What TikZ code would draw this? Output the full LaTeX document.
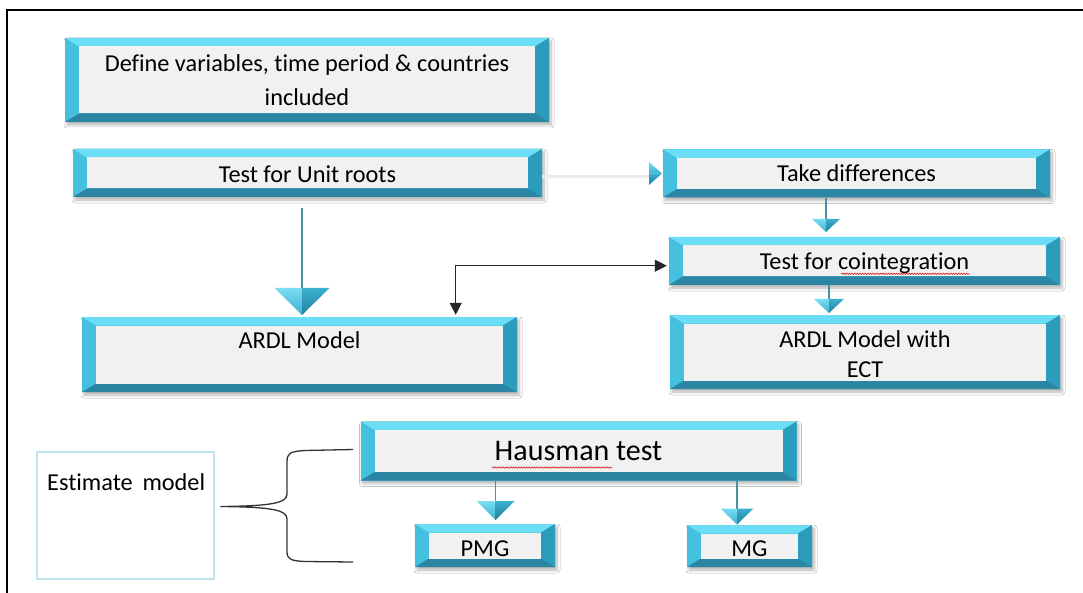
\documentclass[tikz,border=0pt]{standalone}
\usepackage{fontspec}
\setmainfont{Carlito}[Ligatures=NoCommon]
\usetikzlibrary{shadows.blur,arrows.meta,decorations.pathmorphing,calc}
\definecolor{bevtop}{HTML}{6BDDF5}
\definecolor{bevleft}{HTML}{45C1DF}
\definecolor{bevright}{HTML}{2C9CBD}
\definecolor{bevbot}{HTML}{2A86A2}
\definecolor{bevin}{HTML}{F1F1F1}
\definecolor{connc}{HTML}{4E8DA6}
\definecolor{trilt}{HTML}{7ADDF4}
\definecolor{trimd}{HTML}{3BB0CF}
\definecolor{tridk}{HTML}{25809D}
\definecolor{embord}{HTML}{BFE2EC}
\definecolor{faintc}{HTML}{EBEBEB}
\newcommand\bevx{14pt}
\newcommand\bevy{8.5pt}
\newcommand\fsmain{\fontsize{24.3}{29.5}\selectfont}
\newcommand\fsdef{\fontsize{24.3}{34}\selectfont}
\newcommand\fshaus{\fontsize{30}{36}\selectfont}
\tikzset{
  bevelbox/.style={rectangle, inner sep=0pt, align=center, fill=bevleft, font=\fsmain,
    blur shadow={shadow xshift=2pt, shadow yshift=-3pt, shadow blur steps=6, shadow opacity=30, shadow blur radius=3pt},
    path picture={
      \fill[bevtop] (path picture bounding box.north west) -- (path picture bounding box.north east)
        -- ([xshift=-\bevx,yshift=-\bevy]path picture bounding box.north east)
        -- ([xshift=\bevx,yshift=-\bevy]path picture bounding box.north west) -- cycle;
      \fill[bevright] (path picture bounding box.north east) -- (path picture bounding box.south east)
        -- ([xshift=-\bevx,yshift=\bevy]path picture bounding box.south east)
        -- ([xshift=-\bevx,yshift=-\bevy]path picture bounding box.north east) -- cycle;
      \fill[bevbot] (path picture bounding box.south west) -- (path picture bounding box.south east)
        -- ([xshift=-\bevx,yshift=\bevy]path picture bounding box.south east)
        -- ([xshift=\bevx,yshift=\bevy]path picture bounding box.south west) -- cycle;
      \fill[bevin] ([xshift=\bevx,yshift=-\bevy]path picture bounding box.north west)
        rectangle ([xshift=-\bevx,yshift=\bevy]path picture bounding box.south east);
    }},
  conn/.style={draw=connc, line width=1.3pt},
  blk/.style={draw=black!85, line width=1.2pt},
  brace/.style={draw=black!80, line width=1.3pt},
  pics/tridown/.style args={#1/#2}{code={
    \shade[top color=trilt, bottom color=trimd] (-#1/2,-#2) -- (0,-#2) -- (0,0) -- cycle;
    \shade[top color=trimd, bottom color=tridk] (0,-#2) -- (#1/2,-#2) -- (0,0) -- cycle;
  }},
  pics/triright/.style args={#1/#2}{code={
    \shade[top color=trilt, bottom color=trimd] (-#1,-#2/2) -- (-#1,0) -- (0,0) -- cycle;
    \shade[top color=trimd, bottom color=tridk] (-#1,0) -- (-#1,#2/2) -- (0,0) -- cycle;
  }},
}
\begin{document}
\begin{tikzpicture}[x=1pt,y=-1pt]
\useasboundingbox (0,0) rectangle (1083,593);
\fill[white] (0,0) rectangle (1083,593);
% frame
\draw[line width=2.2pt] (7,593) -- (7,10) -- (1083,10);

% boxes
\node[bevelbox, minimum width=484pt, minimum height=84pt, font=\fsdef] (def) at (307,80) {Define variables, time period \& countries\\included};
\node[bevelbox, minimum width=469pt, minimum height=48pt, text height=19pt, text depth=0pt] (unit) at (307.5,173) {Test for Unit roots};
\node[bevelbox, minimum width=387pt, minimum height=48pt, text height=17pt, text depth=0pt] (diff) at (856.5,173.5) {Take differences};
\node[bevelbox, minimum width=391pt, minimum height=48pt, text height=18pt, text depth=0pt] (coint) at (864.5,261) {Test for cointegration};
\node[bevelbox, minimum width=435pt, minimum height=75pt, text height=18pt, text depth=30pt] (ardl) at (299.5,354.5) {ARDL Model};
\node[bevelbox, minimum width=390pt, minimum height=74pt] (ect) at (865,352) {\rule{0pt}{21pt}ARDL Model with\\ECT};
\node[bevelbox, minimum width=436pt, minimum height=59pt, font=\fshaus, text height=18pt, text depth=0pt] (haus) at (578.5,451) {Hausman test};
\node[bevelbox, minimum width=140pt, minimum height=43pt, text height=21pt, text depth=0pt] (pmg) at (485,545.5) {PMG};
\node[bevelbox, minimum width=125pt, minimum height=42pt, text height=20pt, text depth=0pt] (mg) at (749.5,546) {MG};

% estimate model
\node[draw=embord, line width=1.2pt, minimum width=177pt, minimum height=127pt, inner sep=0pt] (embox) at (125.5,515.5) {};
\node[anchor=west, font=\fsmain, inner sep=0pt] (emtext) at (47,482) {Estimate\hspace{0.4em}model};

% spell-check squiggles
\draw[red!85!black, line width=0.5pt, decorate, decoration={snake, amplitude=0.7pt, segment length=2.6pt}] (841,273.8) -- (970,273.8);
\draw[red!85!black, line width=0.5pt, decorate, decoration={snake, amplitude=0.7pt, segment length=2.6pt}] (492,467.5) -- (612,467.5);

% faint connector unit -> diff
\coordinate (fa) at (649,176.5);
\draw[faintc, line width=3pt] ([yshift=-3.5pt]unit.east) -- (fa);
\pic at (662,173.5) {triright={13/23}};

% unit -> ardl
\coordinate (a1) at (302,288);
\draw[conn, line width=2pt, shorten <=11pt] (unit.south -| a1) -- (a1);
\pic at (302,315) {tridown={55/27}};

% diff -> coint
\coordinate (a2) at (826,219);
\draw[conn] (diff.south -| a2) -- (a2);
\pic at (826,232) {tridown={28/13}};

% coint -> ect
\coordinate (a3) at (829,299);
\draw[conn] (coint.south -| a3) -- (a3);
\pic at (829,313) {tridown={30/14}};

% haus -> pmg
\coordinate (a4) at (495.7,501);
\draw[conn] (haus.south -| a4) -- (a4);
\pic at (495.7,520) {tridown={38/19}};

% haus -> mg
\coordinate (a5) at (737,509);
\draw[conn] (haus.south -| a5) -- (a5);
\pic at (737,524.5) {tridown={33/16}};

% black double arrow ardl <-> coint
\coordinate (bk) at (455.7,265.7);
\draw[blk, {Triangle[width=12pt,length=12pt]}-{Triangle[width=12pt,length=12pt]}, shorten >=2pt]
  ([yshift=2pt]ardl.north -| bk) -- (bk) -- (bk -| coint.west);

% brace
\coordinate (bt) at (353,449.5);
\coordinate (bm) at (220.5,506.5);
\coordinate (bb) at (353,562);
\draw[brace] (bt) -- (305,450.5) .. controls (290,451.5) and (287,453) .. (287,462)
  -- (287,494) .. controls (287,503) and (272,506) .. (bm)
  .. controls (272,507) and (287,510) .. (287,519)
  -- (287,552) .. controls (287,559) and (291,561) .. (305,561.5) -- (bb);
\end{tikzpicture}
\end{document}
